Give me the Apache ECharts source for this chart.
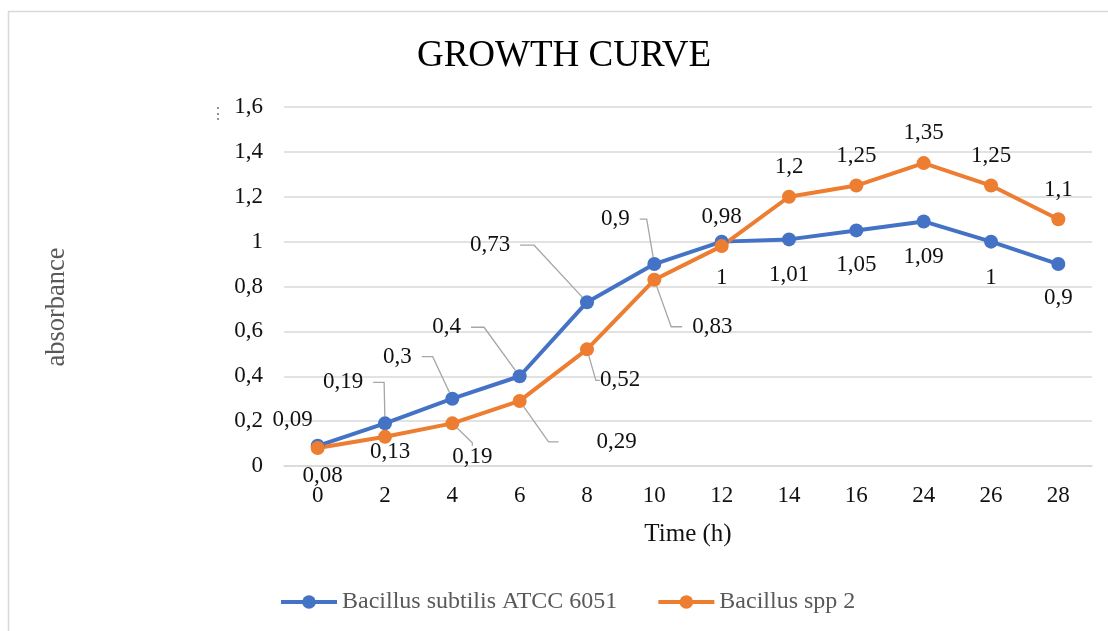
<!DOCTYPE html>
<html>
<head>
<meta charset="utf-8">
<title>Growth curve</title>
<script src="https://cdn.jsdelivr.net/npm/echarts@6/dist/echarts.min.js"></script>
<style>
  html, body { margin: 0; padding: 0; background: #fff; }
  #chart { width: 1108px; height: 631px; }
</style>
</head>
<body>
<div id="chart"></div>
<script>
// Sampling times (h)
const times = ['0', '2', '4', '6', '8', '10', '12', '14', '16', '24', '26', '28'];
// Absorbance readings
const subtilis = [0.09, 0.19, 0.3, 0.4, 0.73, 0.9, 1, 1.01, 1.05, 1.09, 1, 0.9];
const spp2 = [0.08, 0.13, 0.19, 0.29, 0.52, 0.83, 0.98, 1.2, 1.25, 1.35, 1.25, 1.1];
const yTicks = { min: 0, max: 1.6, step: 0.2 };

// Label offsets from each point (px); leaders: index -> [side padding, leader stub length]
const subtilisShift = [[-25, -26], [-42, -41], [-55, -42], [-73, -49], [-97, -57], [-39, -45],
  [0, 36], [0, 36], [0, 35], [0, 36], [0, 36], [0, 34]];
const subtilisLeaders = { 1: [10, 11], 2: [10, 11], 3: [10, 13], 4: [10, 14], 5: [10, 7] };
const sppShift = [[5, 28], [5, 15], [20, 34], [97, 41], [33, 31], [58, 47],
  [0, -29], [0, -30], [0, -30], [0, -30], [0, -30], [0, -29]];
const sppLeaders = { 2: [0, 3], 3: [38, 10], 4: [0, 4], 5: [10, 11] };

const SERIF = "'Liberation Serif', 'Times New Roman', serif";
const comma = v => String(v).replace('.', ',');

function buildData(values, leaders) {
  return values.map((v, i) => {
    const lead = leaders[i];
    if (lead === undefined) return v;
    return {
      value: v,
      label: { padding: [0, lead[0]], lineHeight: 16, backgroundColor: 'rgba(255,255,255,0)' },
      labelLine: { show: true, length2: lead[1], lineStyle: { color: '#a6a6a6', width: 1.3 } }
    };
  });
}

function makeSeries(name, values, color, shift, leaders) {
  return {
    name: name,
    type: 'line',
    data: buildData(values, leaders),
    symbol: 'circle',
    symbolSize: 14,
    lineStyle: { width: 4, color: color },
    itemStyle: { color: color },
    label: {
      show: true,
      position: 'inside',
      fontFamily: SERIF,
      fontSize: 23,
      color: '#111',
      formatter: p => comma(p.value)
    },
    labelLayout: p => ({ dx: shift[p.dataIndex][0], dy: shift[p.dataIndex][1] })
  };
}

const chart = echarts.init(document.getElementById('chart'), null, { renderer: 'canvas' });
chart.setOption({
  animation: false,
  backgroundColor: '#fff',
  title: {
    text: 'GROWTH CURVE',
    left: 559,
    textAlign: 'center',
    top: 33,
    textStyle: { fontFamily: SERIF, fontSize: 37, fontWeight: 'normal', color: '#000' }
  },
  graphic: [
    {
      type: 'rect',
      shape: { x: 8.5, y: 11.5, width: 1300, height: 800 },
      style: { fill: null, stroke: '#d9d9d9', lineWidth: 1.5 },
      silent: true
    },
    {
      type: 'text',
      x: 57, y: 307,
      rotation: Math.PI / 2,
      style: {
        text: 'absorbance',
        fontFamily: SERIF, fontSize: 26.5, fill: '#595959',
        align: 'center', verticalAlign: 'middle'
      }
    },
    {
      type: 'text',
      x: 218, y: 115,
      style: {
        text: '⋮',
        fontFamily: SERIF, fontSize: 16, fill: '#7f7f7f',
        align: 'center', verticalAlign: 'middle'
      }
    }
  ],
  legend: {
    left: 279,
    top: 590,
    padding: 0,
    itemWidth: 56,
    itemHeight: 17,
    itemGap: 39,
    lineStyle: { width: 4 },
    textStyle: { fontFamily: SERIF, fontSize: 24, color: '#595959' },
    data: ['Bacillus subtilis ATCC 6051', 'Bacillus spp 2']
  },
  grid: { left: 284, right: 16, top: 107, bottom: 165, containLabel: false },
  xAxis: {
    type: 'category',
    data: times,
    boundaryGap: true,
    name: 'Time (h)',
    nameLocation: 'middle',
    nameGap: 56,
    nameTextStyle: { fontFamily: SERIF, fontSize: 25, color: '#111' },
    axisLine: { show: true, lineStyle: { color: '#d9d9d9', width: 1.5 } },
    axisTick: { show: false },
    axisLabel: { fontFamily: SERIF, fontSize: 23, color: '#111', margin: 18 }
  },
  yAxis: {
    type: 'value',
    min: yTicks.min,
    max: yTicks.max,
    interval: yTicks.step,
    axisLine: { show: false },
    axisTick: { show: false },
    splitLine: { lineStyle: { color: '#d9d9d9', width: 1.5 } },
    axisLabel: {
      fontFamily: SERIF, fontSize: 23, color: '#111', margin: 21,
      formatter: v => comma(Math.round(v * 10) / 10)
    }
  },
  series: [
    makeSeries('Bacillus subtilis ATCC 6051', subtilis, '#4472C4', subtilisShift, subtilisLeaders),
    makeSeries('Bacillus spp 2', spp2, '#ED7D31', sppShift, sppLeaders)
  ]
});
</script>
</body>
</html>
